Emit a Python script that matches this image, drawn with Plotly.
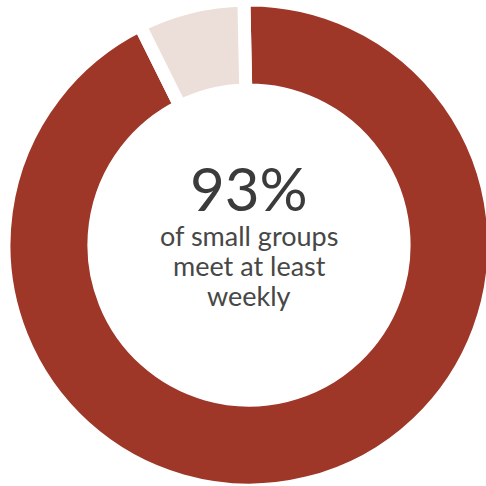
import plotly.graph_objects as go

# Share of small groups by meeting frequency
labels = ["At least weekly", "Less often"]
values = [93, 7]
colors = ["#9e3728", "#ecdfd9"]

headline = "93%"
caption_lines = ["of small groups", "meet at least", "weekly"]

W, H = 494, 490

fig = go.Figure(
    go.Pie(
        labels=labels,
        values=values,
        hole=0.633,
        sort=False,
        direction="clockwise",
        rotation=-1.2,
        textinfo="none",
        hoverinfo="label+percent",
        marker=dict(colors=colors, line=dict(color="#ffffff", width=13)),
        showlegend=False,
    )
)

fig.add_annotation(
    text=headline,
    x=0.5, y=(H - 188) / H,
    xref="paper", yref="paper",
    xanchor="center", yanchor="middle",
    showarrow=False,
    font=dict(family="Lato", size=60, color="#3b3b3b"),
)

# caption lines, one annotation per line for tighter spacing
for i, line in enumerate(caption_lines):
    fig.add_annotation(
        text=line,
        x=0.5, y=(H - (235 + 30 * i)) / H,
        xref="paper", yref="paper",
        xanchor="center", yanchor="middle",
        showarrow=False,
        font=dict(family="Lato", size=27, color="#474747"),
    )

fig.update_layout(
    width=W,
    height=H,
    margin=dict(l=4, r=0, t=0, b=0),
    paper_bgcolor="#ffffff",
    plot_bgcolor="#ffffff",
)

fig.write_html(
    "out.html",
    post_script="document.body.style.margin='0';document.body.style.overflow='hidden';document.documentElement.style.overflow='hidden';",
)
